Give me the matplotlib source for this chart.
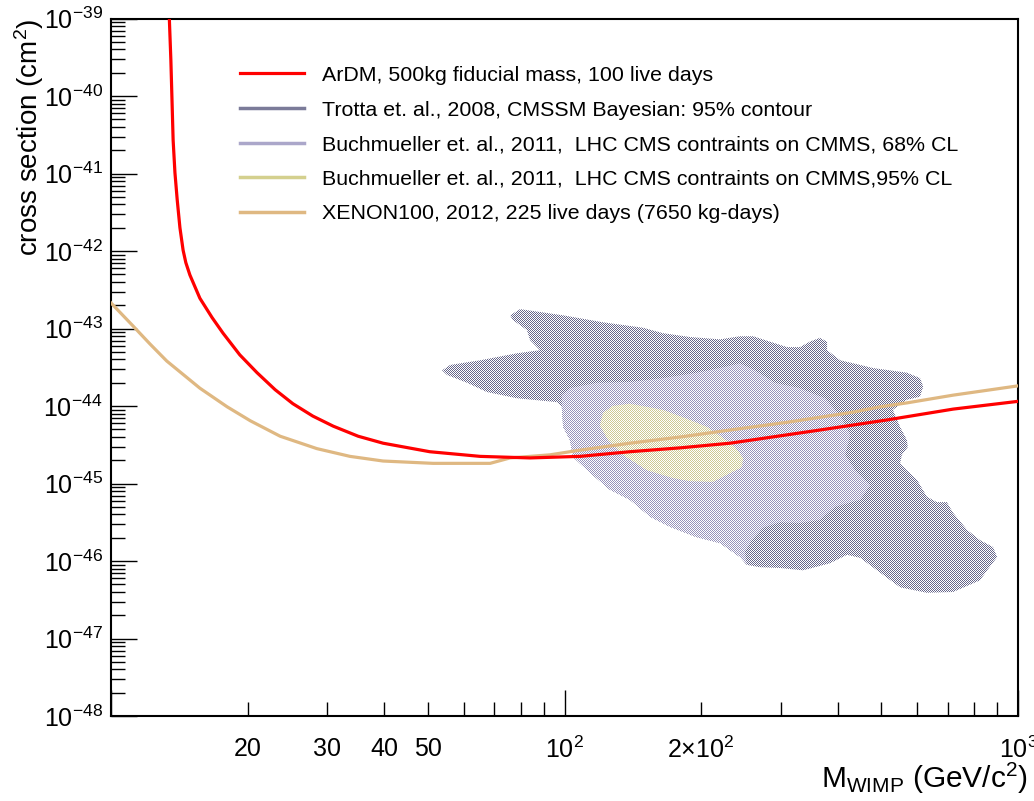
import numpy as np
import matplotlib
matplotlib.use("Agg")
import matplotlib.pyplot as plt
from matplotlib.patches import Polygon
from matplotlib.lines import Line2D
from matplotlib.ticker import FixedLocator, FixedFormatter, NullFormatter

plt.rcParams['font.family'] = ['Liberation Sans', 'DejaVu Sans']
plt.rcParams['mathtext.fontset'] = 'custom'
plt.rcParams['mathtext.rm'] = 'Liberation Sans'
plt.rcParams['mathtext.it'] = 'Liberation Sans:italic'
plt.rcParams['mathtext.bf'] = 'Liberation Sans:bold'

# ---------------- data (log10 of mass [GeV/c^2], log10 of cross section [cm^2]) -------------
ardm_logm = [1.128, 1.132, 1.1345, 1.137, 1.141, 1.146, 1.152, 1.159, 1.165, 1.174, 1.196,
             1.223, 1.247, 1.284, 1.322, 1.362, 1.401, 1.445, 1.490, 1.545, 1.600, 1.703,
             1.814, 1.924, 2.034, 2.144, 2.255, 2.365, 2.563, 2.711, 2.857, 3.0]
ardm_logs = [-38.9, -39.535, -40.05, -40.57, -40.99, -41.34, -41.70, -41.99, -42.15, -42.31,
             -42.61, -42.86, -43.06, -43.34, -43.57, -43.79, -43.97, -44.13, -44.26, -44.39,
             -44.48, -44.59, -44.65, -44.67, -44.65, -44.59, -44.54, -44.48, -44.31, -44.18,
             -44.04, -43.94]

xenon_logm = [1.000, 1.049, 1.086, 1.123, 1.196, 1.256, 1.307, 1.373, 1.454, 1.527, 1.600,
              1.710, 1.836, 1.880, 1.968, 2.034, 2.144, 2.255, 2.365, 2.491, 2.636, 2.696,
              2.755, 2.857, 3.0]
xenon_logs = [-42.67, -42.97, -43.20, -43.42, -43.77, -44.01, -44.19, -44.39, -44.55, -44.65,
              -44.71, -44.74, -44.74, -44.67, -44.63, -44.57, -44.48, -44.40, -44.31, -44.21,
              -44.08, -44.01, -43.96, -43.86, -43.74]

trotta_logm = [1.880, 1.902, 1.997, 2.085, 2.173, 2.217, 2.277, 2.343, 2.387, 2.416, 2.453,
               2.491, 2.519, 2.541, 2.563, 2.579, 2.579, 2.608, 2.652, 2.680, 2.755, 2.784,
               2.791, 2.784, 2.755, 2.724, 2.740, 2.755, 2.757, 2.744, 2.740, 2.755, 2.777,
               2.799, 2.821, 2.843, 2.857, 2.888, 2.916, 2.945, 2.954, 2.932, 2.916, 2.857,
               2.799, 2.740, 2.696, 2.652, 2.623, 2.585, 2.526, 2.475, 2.431, 2.402, 2.387,
               2.343, 2.290, 2.233, 2.189, 2.144, 2.100, 2.056, 2.019, 2.012, 1.997, 1.994,
               1.983, 1.895, 1.829, 1.785, 1.741, 1.730, 1.748, 1.814, 1.895, 1.946, 1.924,
               1.917, 1.886]
trotta_logs = [-42.83, -42.75, -42.83, -42.92, -42.99, -43.06, -43.11, -43.14, -43.10, -43.10,
               -43.17, -43.24, -43.24, -43.17, -43.12, -43.17, -43.28, -43.41, -43.47, -43.51,
               -43.57, -43.64, -43.75, -43.88, -43.92, -44.05, -44.27, -44.44, -44.53, -44.63,
               -44.74, -44.83, -44.95, -45.17, -45.24, -45.24, -45.38, -45.60, -45.73, -45.82,
               -45.95, -46.12, -46.25, -46.40, -46.41, -46.34, -46.15, -45.96, -45.92, -46.03,
               -46.12, -46.09, -46.08, -46.05, -45.95, -45.77, -45.69, -45.56, -45.43, -45.21,
               -45.08, -44.86, -44.66, -44.44, -44.27, -44.01, -43.95, -43.90, -43.82, -43.70,
               -43.60, -43.54, -43.47, -43.41, -43.32, -43.28, -43.15, -43.02, -42.89]

buch68_logm = [1.994, 2.012, 2.072, 2.144, 2.217, 2.292, 2.350, 2.387, 2.420, 2.464, 2.519,
               2.574, 2.608, 2.630, 2.619, 2.641, 2.674, 2.652, 2.597, 2.563, 2.519, 2.475,
               2.438, 2.413, 2.398, 2.402, 2.387, 2.343, 2.290, 2.233, 2.189, 2.144, 2.100,
               2.056, 2.019, 2.012, 1.997, 1.994]
buch68_logs = [-43.86, -43.77, -43.70, -43.69, -43.64, -43.57, -43.50, -43.45, -43.54, -43.70,
               -43.77, -43.90, -44.12, -44.37, -44.63, -44.83, -45.02, -45.21, -45.30, -45.47,
               -45.51, -45.50, -45.57, -45.73, -45.88, -46.05, -45.95, -45.77, -45.69, -45.56,
               -45.43, -45.21, -45.08, -44.86, -44.66, -44.44, -44.27, -44.01]

buch95_logm = [2.078, 2.085, 2.105, 2.144, 2.217, 2.277, 2.314, 2.347, 2.376, 2.394, 2.391,
               2.361, 2.327, 2.277, 2.239, 2.182, 2.129, 2.096]
buch95_logs = [-44.25, -44.09, -44.00, -43.97, -44.05, -44.18, -44.27, -44.40, -44.53, -44.67,
               -44.79, -44.88, -44.98, -44.97, -44.93, -44.83, -44.63, -44.44]

legend_labels = [
    "ArDM, 500kg fiducial mass, 100 live days",
    "Trotta et. al., 2008, CMSSM Bayesian: 95% contour",
    "Buchmueller et. al., 2011,  LHC CMS contraints on CMMS, 68% CL",
    "Buchmueller et. al., 2011,  LHC CMS contraints on CMMS,95% CL",
    "XENON100, 2012, 225 live days (7650 kg-days)",
]

x_major_ticks = [10, 100, 1000]
x_major_labels = ["", r"$10^{2}$", r"$10^{3}$"]
x_minor_ticks = [20, 30, 40, 50, 60, 70, 80, 90, 200, 300, 400, 500, 600, 700, 800, 900]
x_minor_labels = ["20", "30", "40", "50", "", "", "", "", r"$2{\times}10^{2}$",
                  "", "", "", "", "", "", ""]
y_exponents = list(range(-48, -38))

# ---------------- styles ----------------
c_ardm = "#ff0000"
c_xenon = "#dfb882"
c_trotta_fill = "#66668a"
c_b68_fill = "#9793bb"
c_b95_fill = "#cdc993"
c_trotta_leg = "#7b7b99"
c_b68_leg = "#aba7ca"
c_b95_leg = "#d4d08e"

W, H, DPI = 1034, 801, 100
fig = plt.figure(figsize=(W / DPI, H / DPI), dpi=DPI, facecolor="white")
ax = fig.add_axes([111 / W, 1 - 716 / H, (1018 - 111) / W, (716 - 18.5) / H])
ax.set_facecolor("none")
ax.set_xscale("log")
ax.set_yscale("log")
ax.set_xlim(10, 1000)
ax.set_ylim(1e-48, 1e-39)

# checkerboard-pattern fills (ROOT style 3001), clipped by contour polygons
yy, xx = np.mgrid[0:H, 0:W]
checker = ((xx + yy) % 2 == 0)

def checker_fill(logm, logs, color):
    rgb = np.array(matplotlib.colors.to_rgb(color))
    img = np.zeros((H, W, 4))
    img[..., :3] = rgb
    img[..., 3] = checker.astype(float)
    poly = Polygon(np.column_stack([10.0 ** np.array(logm), 10.0 ** np.array(logs)]),
                   closed=True, transform=ax.transData, facecolor="none", edgecolor="none")
    im = fig.figimage(img, xo=0, yo=0, origin="upper", zorder=-1)
    im.set_clip_path(poly)
    return im

checker_fill(trotta_logm, trotta_logs, c_trotta_fill)
checker_fill(buch68_logm, buch68_logs, c_b68_fill)
checker_fill(buch95_logm, buch95_logs, c_b95_fill)

ax.plot(10.0 ** np.array(xenon_logm), 10.0 ** np.array(xenon_logs), color=c_xenon, lw=2.3,
        solid_joinstyle="round", zorder=3)
ax.plot(10.0 ** np.array(ardm_logm), 10.0 ** np.array(ardm_logs), color=c_ardm, lw=2.3,
        solid_joinstyle="round", zorder=4)

# ticks
ax.xaxis.set_major_locator(FixedLocator(x_major_ticks))
ax.xaxis.set_major_formatter(FixedFormatter(x_major_labels))
ax.xaxis.set_minor_locator(FixedLocator(x_minor_ticks))
ax.xaxis.set_minor_formatter(FixedFormatter(x_minor_labels))
yt = [10.0 ** e for e in y_exponents]
ax.yaxis.set_major_locator(FixedLocator(yt))
ax.yaxis.set_major_formatter(FixedFormatter([r"$10^{%d}$" % e for e in y_exponents]))
ax.yaxis.set_minor_locator(matplotlib.ticker.LogLocator(base=10, subs=np.arange(2, 10), numticks=100))
ax.yaxis.set_minor_formatter(NullFormatter())

ax.tick_params(which="both", direction="in", top=False, right=False, width=1.0, color="black",
               labelsize=18)
ax.tick_params(which="major", length=19)
ax.tick_params(which="minor", length=10)
ax.tick_params(axis="x", which="both", pad=15)
ax.tick_params(axis="y", which="both", pad=6)
for s in ax.spines.values():
    s.set_linewidth(1.5)

ax.set_ylabel(r"cross section (cm$^{2}$)", fontsize=20, loc="top")
ax.yaxis.set_label_coords(-0.072, 1.0)
ax.set_xlabel(r"M$_{\mathrm{WIMP}}$ (GeV/c$^{2}$)", fontsize=21.5, ha="right", va="center")
ax.xaxis.set_label_coords(1.011, -0.089)

handles = [
    Line2D([], [], color=c_ardm, lw=2.3),
    Line2D([], [], color=c_trotta_leg, lw=2.5),
    Line2D([], [], color=c_b68_leg, lw=2.5),
    Line2D([], [], color=c_b95_leg, lw=2.5),
    Line2D([], [], color=c_xenon, lw=2.5),
]
ax.legend(handles, legend_labels, loc="upper left", bbox_to_anchor=(0.142, 0.932),
          frameon=False, fontsize=15.4, handlelength=3.0, handletextpad=0.84,
          labelspacing=0.73, borderpad=0, borderaxespad=0)

fig.savefig("out.png", dpi=DPI, facecolor="white")
